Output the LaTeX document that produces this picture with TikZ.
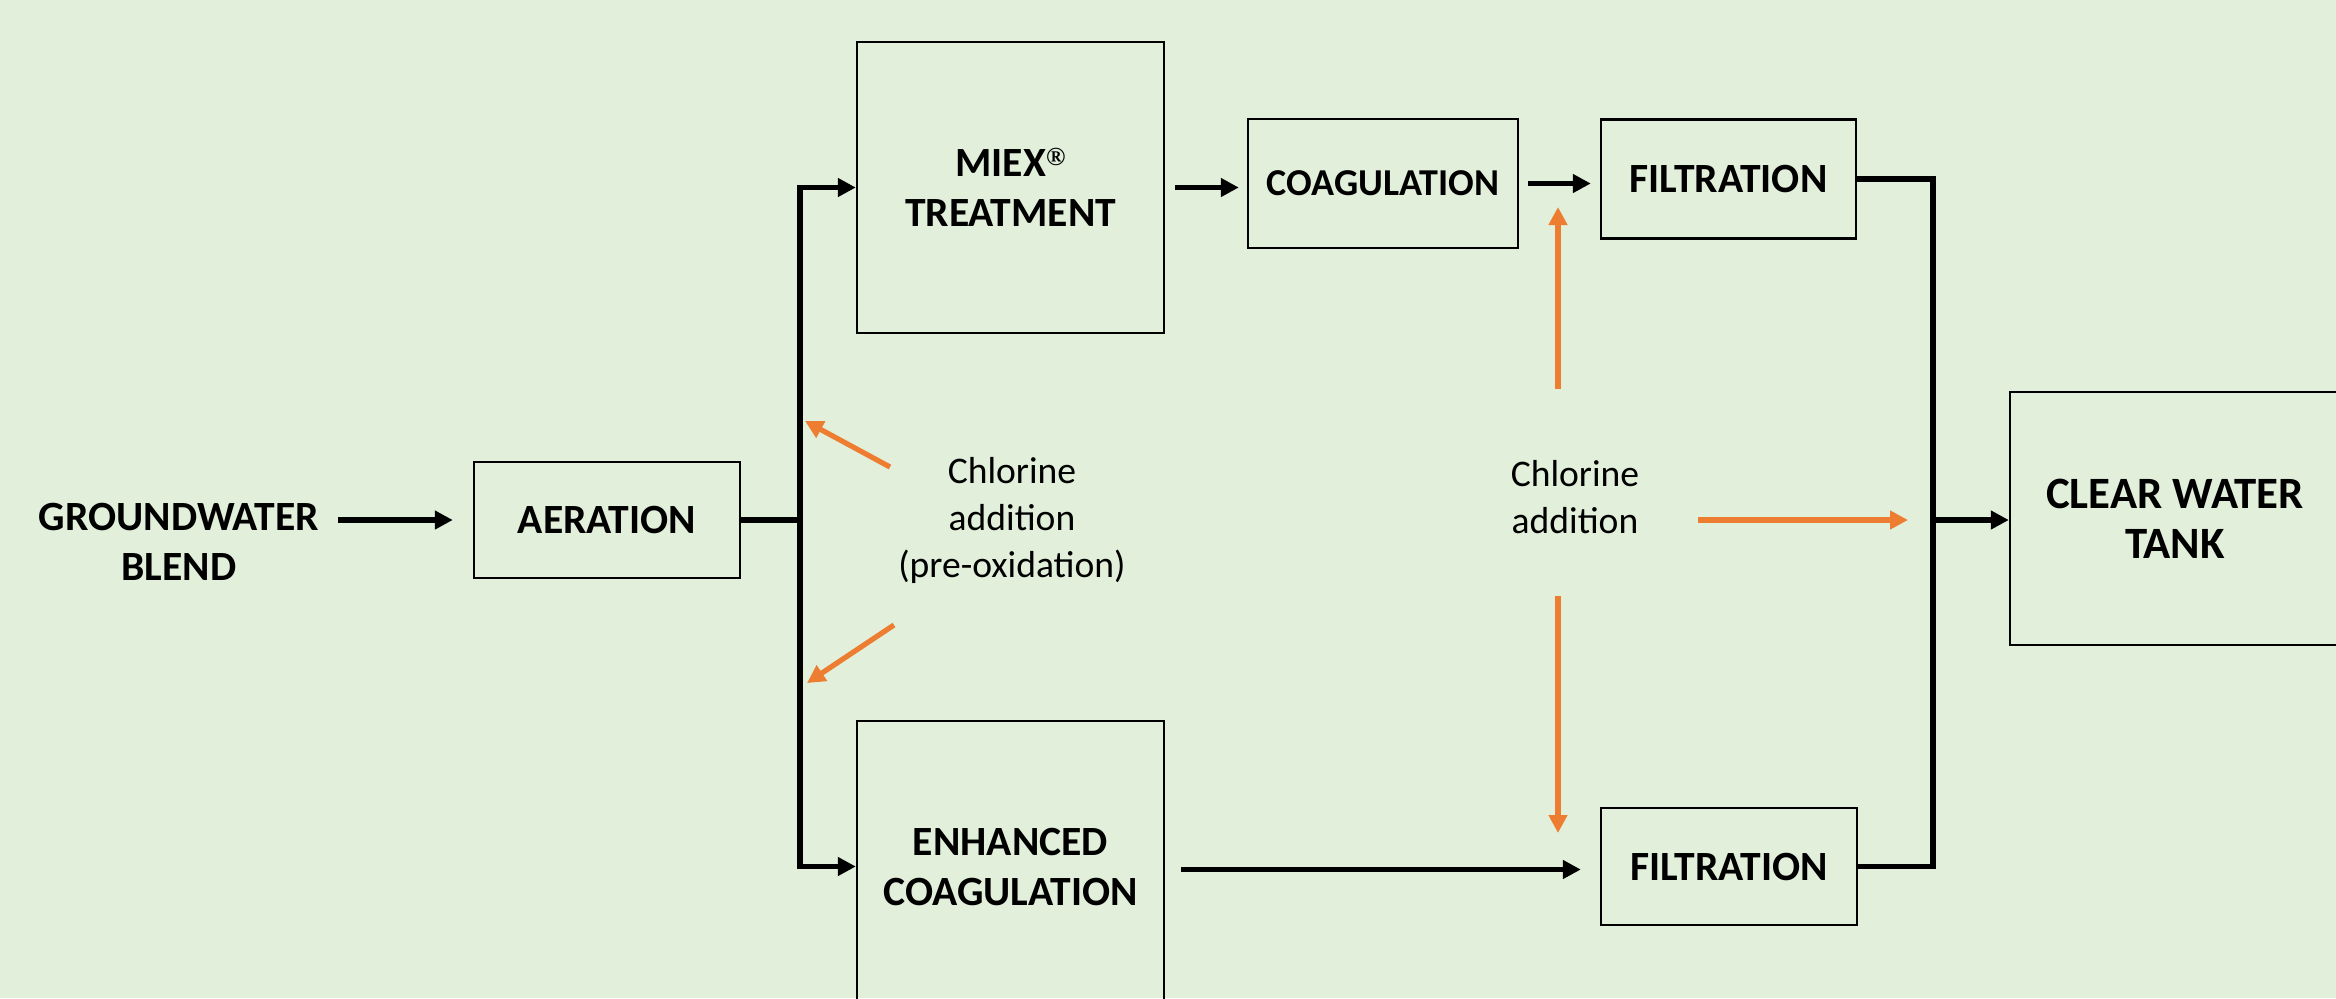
\documentclass[tikz,border=0pt]{standalone}
\usepackage{fontspec}
\setmainfont{Carlito}
\newfontfamily\regfont{Liberation Serif}
\usetikzlibrary{arrows.meta,calc}
\definecolor{bgcol}{HTML}{E2EFDA}
\definecolor{chl}{HTML}{ED7D31}
\newcommand\lblfont{\fontsize{20.8}{25}\selectfont\bfseries}
\newcommand\coagfont{\fontsize{19}{23}\selectfont\bfseries}
\newcommand\tankfont{\fontsize{22.4}{25}\selectfont\bfseries}
\newcommand\notefont{\fontsize{18.8}{23.5}\selectfont}
\newcommand\regmark{\raisebox{5.5pt}{\regfont\fontsize{13}{13}\selectfont ®}}
\begin{document}
\begin{tikzpicture}[x=0.5pt,y=-0.5pt,
  box/.style={draw=black, line width=1.2pt, align=center, inner sep=0pt, font=\lblfont},
  txt/.style={align=center, inner sep=0pt, font=\lblfont},
  note/.style={align=center, inner sep=0pt, font=\notefont},
  conn/.style={draw=black, line width=2.8pt},
  arrk/.style={draw=black, line width=2.8pt, -{Triangle[length=9pt,width=9pt]}},
  orng/.style={draw=chl, line width=2.6pt, -{Triangle[length=9pt,width=9pt]}}]
\path[fill=bgcol] (0,0) rectangle (2336,998);
\useasboundingbox (0,0) rectangle (2336,998);

% nodes
\node[txt] (gw) at (179,542) {GROUNDWATER\\BLEND};
\node[box, minimum width=133pt, minimum height=58pt] (aer) at (607,520) {AERATION};
\node[box, minimum width=153.5pt, minimum height=145.5pt] (miex) at (1010.5,187.5) {MIEX\regmark\\TREATMENT};
\node[box, minimum width=135pt, minimum height=64.5pt, font=\coagfont] (coag) at (1383,183.5) {COAGULATION};
\node[box, minimum width=127.5pt, minimum height=59.5pt] (filt1) at (1728.5,179) {FILTRATION};
\node[box, minimum width=153.5pt, minimum height=145.5pt] (enh) at (1010.5,866.5) {ENHANCED\\COAGULATION};
\node[box, minimum width=128pt, minimum height=58.5pt] (filt2) at (1729,866.5) {FILTRATION};
\node[box, minimum width=165pt, minimum height=126.5pt, font=\tankfont] (tank) at (2175,518.5) {CLEAR WATER\\TANK};
\node[note] (pre) at (1012,520) {Chlorine\\addition\\(pre-oxidation)};
\node[note] (cl) at (1575,497) {Chlorine\\addition};

% junctions
\coordinate (jn) at (800,520);
\coordinate (cj) at (1933,520);

% black connectors
\draw[arrk, shorten <=9.5pt, shorten >=10pt] (gw.east |- aer.west) -- (aer.west);
\draw[conn] (aer.east) -- (jn);
\draw[arrk] (jn) |- (miex.west);
\draw[arrk] (jn) |- (enh.west);
\draw[arrk, shorten <=5pt, shorten >=4pt] (miex.east) -- (miex.east -| coag.west);
\draw[arrk, shorten <=4.5pt, shorten >=4.5pt] (coag.east) -- (coag.east -| filt1.west);
\draw[arrk, shorten <=8pt, shorten >=9.5pt] ([yshift=-1.5pt]enh.east) -- ([yshift=-1.5pt]enh.east -| filt2.west);
\draw[conn] (filt1.east) -| (cj) |- (filt2.east);
\draw[arrk] (cj) -- (cj -| tank.west);

% chlorine arrows
\coordinate (a1s) at (890,467); \coordinate (a1e) at (805,421);
\coordinate (a2s) at (894,625); \coordinate (a2e) at (807,683);
\coordinate (a3s) at (1558,389); \coordinate (a3e) at (1558,207);
\coordinate (a4s) at (1698,520); \coordinate (a4e) at (1908,520);
\coordinate (a5s) at (1558,596); \coordinate (a5e) at (1558,833);
\draw[orng] (a1s) -- (a1e);
\draw[orng] (a2s) -- (a2e);
\draw[orng] (a3s) -- (a3e);
\draw[orng] (a4s) -- (a4e);
\draw[orng] (a5s) -- (a5e);
\end{tikzpicture}
\end{document}
